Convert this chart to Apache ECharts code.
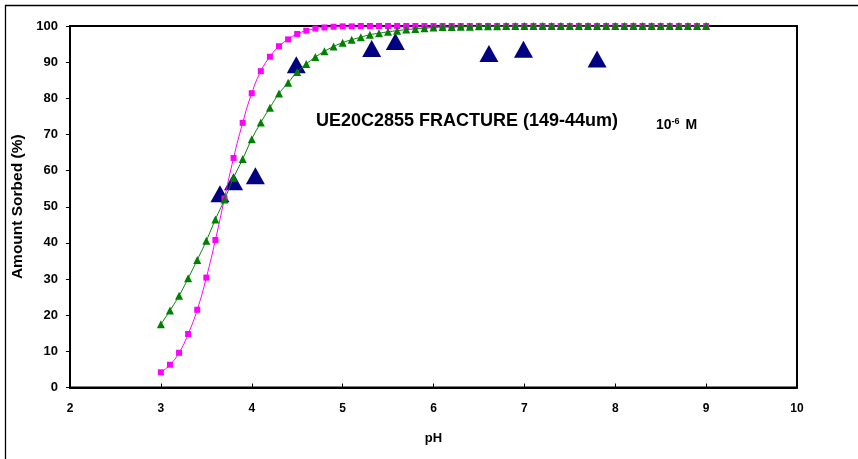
<!DOCTYPE html>
<html>
<head>
<meta charset="utf-8">
<script src="https://cdn.jsdelivr.net/npm/echarts@6/dist/echarts.min.js"></script>
<style>html,body{margin:0;padding:0;background:#fff}#c{width:858px;height:459px}</style>
</head>
<body>
<div id="c"></div>
<script>
// pH grid of the two model curves
var phGrid = [3.0,3.1,3.2,3.3,3.4,3.5,3.6,3.7,3.8,3.9,4.0,4.1,4.2,4.3,4.4,4.5,4.6,4.7,4.8,4.9,
  5.0,5.1,5.2,5.3,5.4,5.5,5.6,5.7,5.8,5.9,6.0,6.1,6.2,6.3,6.4,6.5,6.6,6.7,6.8,6.9,
  7.0,7.1,7.2,7.3,7.4,7.5,7.6,7.7,7.8,7.9,8.0,8.1,8.2,8.3,8.4,8.5,8.6,8.7,8.8,8.9,9.0];
// magenta square model
var modelA = [4.2,6.3,9.6,14.8,21.5,30.4,40.8,52.3,63.5,73.2,81.4,87.5,91.5,94.4,96.3,97.8,98.7,99.3,99.6,99.8,
  99.9,99.9,100,100,100,100,100,100,100,100,100,100,100,100,100,100,100,100,100,100,
  100,100,100,100,100,100,100,100,100,100,100,100,100,100,100,100,100,100,100,100,100];
// green triangle model
var modelB = [17.5,21.3,25.4,30.2,35.3,40.6,46.5,52.0,58.0,63.2,68.7,73.3,77.4,81.3,84.3,87.3,89.5,91.4,93.0,94.3,
  95.4,96.2,96.9,97.6,98.0,98.4,98.7,99.0,99.2,99.4,99.6,99.7,99.7,99.8,99.8,99.9,99.9,99.9,100,100,
  100,100,100,100,100,100,100,100,100,100,100,100,100,100,100,100,100,100,100,100,100];
// measured data
var measPH = [3.65,3.80,4.04,4.49,5.32,5.58,6.61,6.99,7.80];
var measVal = [53.6,56.9,58.6,89.3,93.8,95.7,92.4,93.6,90.9];
var xTicks = [2,3,4,5,6,7,8,9,10];
var yTicks = [0,10,20,30,40,50,60,70,80,90,100];

function pairs(xs, ys){ return xs.map(function(x,i){ return [x, ys[i]]; }); }

var chart = echarts.init(document.getElementById('c'), null, {renderer:'canvas'});
var font = '"Liberation Sans", Arial, sans-serif';
chart.setOption({
  animation:false,
  backgroundColor:'#fff',
  grid:{left:70,right:61,top:26,bottom:71.5,show:true,borderColor:'#000',borderWidth:2,backgroundColor:'transparent'},
  xAxis:{type:'value',min:xTicks[0],max:xTicks[xTicks.length-1],interval:1,
    name:'pH',nameLocation:'middle',nameGap:44,
    nameTextStyle:{fontFamily:font,fontWeight:'bold',fontSize:13,color:'#000'},
    axisLine:{show:true,onZero:false,lineStyle:{color:'#000',width:2}},
    axisTick:{show:true,inside:true,length:4,lineStyle:{color:'#000',width:1}},
    axisLabel:{fontFamily:font,fontWeight:'bold',fontSize:12,color:'#000',margin:15},
    splitLine:{show:false}},
  yAxis:{type:'value',min:yTicks[0],max:yTicks[yTicks.length-1],interval:10,
    name:'Amount Sorbed (%)',nameLocation:'middle',nameGap:44,nameRotate:90,
    nameTextStyle:{fontFamily:font,fontWeight:'bold',fontSize:15.5,color:'#000'},
    axisLine:{show:true,onZero:false,lineStyle:{color:'#000',width:2}},
    axisTick:{show:true,inside:false,length:4,lineStyle:{color:'#000',width:1}},
    axisLabel:{fontFamily:font,fontWeight:'bold',fontSize:13,color:'#000',margin:12},
    splitLine:{show:false}},
  graphic:[
    {type:'rect',shape:{x:5.5,y:5.5,width:900,height:500},style:{fill:'none',stroke:'#000',lineWidth:1.3},silent:true,z:-1},
    {type:'text',left:316,top:112,style:{text:'UE20C2855 FRACTURE (149-44um)',fontFamily:font,fontWeight:'bold',fontSize:18,fill:'#000'}},
    {type:'text',left:656,top:117,style:{text:'10{s|-6} M',fontFamily:font,fontWeight:'bold',fontSize:14,fill:'#000',
      rich:{s:{fontSize:9,fontWeight:'bold',fontFamily:font,verticalAlign:'top',padding:[0,2,8,0]}}}}
  ],
  series:[
    {type:'scatter',name:'measured',data:pairs(measPH,measVal),symbol:'triangle',symbolSize:[19,17],
      itemStyle:{color:'#000080',opacity:1},z:2},
    {type:'line',name:'modelA',data:pairs(phGrid,modelA),smooth:true,symbol:'rect',symbolSize:6,showSymbol:true,
      lineStyle:{color:'#ff00ff',width:1},itemStyle:{color:'#ff00ff',borderWidth:0},z:3},
    {type:'line',name:'modelB',data:pairs(phGrid,modelB),smooth:true,symbol:'triangle',symbolSize:8,showSymbol:true,
      lineStyle:{color:'#008000',width:1},itemStyle:{color:'#008000',borderWidth:0},z:4}
  ]
});
</script>
</body>
</html>
